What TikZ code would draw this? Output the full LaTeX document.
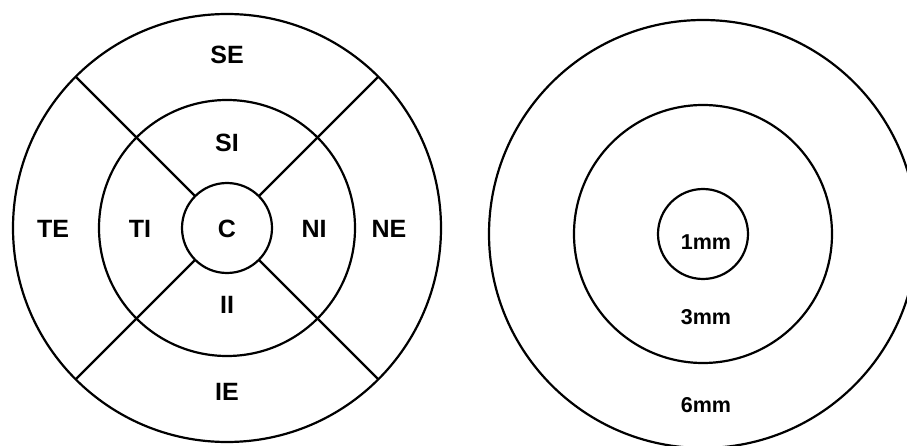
\documentclass[tikz,border=0pt]{standalone}
\usepackage{fontspec}
\setmainfont{Liberation Sans}
\begin{document}
\begin{tikzpicture}[x=1pt,y=-1pt,
  ring/.style={circle,draw=black,line width=2.2pt,inner sep=0pt,outer sep=0pt,minimum size=#1},
  spoke/.style={draw=black,line width=2.2pt},
  lab/.style={font=\fontsize{25}{25}\selectfont\bfseries,inner sep=0pt,text depth=0pt},
  mmlab/.style={font=\fontsize{21.5}{21.5}\selectfont\bfseries,inner sep=0pt,text depth=0pt}]
\useasboundingbox (0,0) rectangle (907,446);
\clip (0,0) rectangle (907,446);
\fill[white] (0,0) rectangle (907,446);
% left diagram
\node[ring=428pt] (Lo) at (227,228) {};
\node[ring=256pt] (Lm) at (227,228) {};
\node[ring=90pt]  (Li) at (227,228) {};
\foreach \a in {45,135,225,315}{
  \draw[spoke] (Li.\a) -- (Lo.\a);
}
\node[lab] (SE) at (227,55) {SE};
\node[lab] (SI) at (227,143) {SI};
\node[lab] (TE) at (53,229) {TE};
\node[lab] (TI) at (140,229) {TI};
\node[lab] (C)  at (227,229) {C};
\node[lab] (NI) at (314,229) {NI};
\node[lab] (NE) at (389,229) {NE};
\node[lab] (II) at (227,305) {II};
\node[lab] (IE) at (227,392) {IE};
% right diagram
\node[ring=428pt] (Ro) at (703,234) {};
\node[ring=258pt] (Rm) at (703,234) {};
\node[ring=90pt]  (Ri) at (703,234) {};
\node[mmlab] (m1) at (706,242) {1mm};
\node[mmlab] (m3) at (706,317) {3mm};
\node[mmlab] (m6) at (706,405) {6mm};
\end{tikzpicture}
\end{document}
